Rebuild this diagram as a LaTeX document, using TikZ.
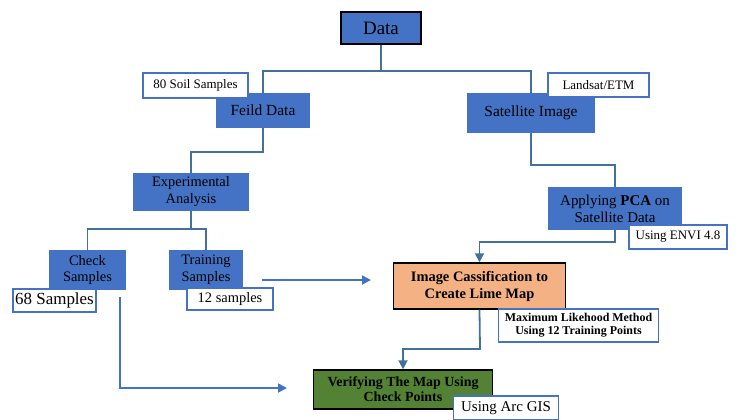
\documentclass[tikz,border=0pt]{standalone}
\usepackage{fontspec}
\setmainfont{Liberation Serif}
\usetikzlibrary{arrows.meta}
\definecolor{boxblue}{HTML}{4472C4}
\definecolor{lineblue}{HTML}{41719C}
\definecolor{limeorange}{HTML}{F4B183}
\definecolor{mapgreen}{HTML}{548235}
\newcommand{\fs}[2]{\fontsize{#1}{#2}\selectfont}

\begin{document}
\begin{tikzpicture}[x=1bp,y=-1bp]
        \tikzset{
          stage/.style = {fill=boxblue, text=black, align=center, inner sep=0pt},
          result/.style = {draw=black, line width=1.6pt, align=center, inner sep=0pt},
          note/.style = {draw=boxblue, fill=white, line width=1.5pt, inner sep=0pt, align=center},
          link/.style = {draw=lineblue, line width=1.8pt},
          flow/.style = {draw=boxblue, line width=1.8pt, -{Triangle[length=9pt,width=9pt]}}
        }
        \useasboundingbox (0,0) rectangle (737,419);
        % stages
        \node[stage, draw=black, line width=1.6pt, minimum width=80, minimum height=32, font=\fs{19}{20}] (data) at (381,28) {Data};
        \node[stage, minimum width=94, minimum height=35, font=\fs{15.5}{17}] (field) at (263,110.5) {Feild Data};
        \node[stage, minimum width=128, minimum height=40, font=\fs{15.5}{17}] (sat) at (531,113) {Satellite Image};
        \node[stage, minimum width=116, minimum height=38, font=\fs{14.5}{17}] (expt) at (191,192) {Experimental\\Analysis};
        \node[stage, minimum width=134, minimum height=43, font=\fs{15}{17}] (pca) at (615,208.5) {Applying \textbf{PCA} on\\Satellite Data};
        \node[stage, minimum width=77, minimum height=40, font=\fs{14.5}{17}] (check) at (87.5,270) {Check\\Samples};
        \node[stage, minimum width=74, minimum height=40, font=\fs{14.5}{17}] (train) at (206,270) {Training\\Samples};
        \node[result, fill=limeorange, minimum width=173, minimum height=46, font=\bfseries\fs{14.5}{17}] (imgcls) at (479.5,286) {Image Cassification to\\Create Lime Map};
        \node[result, fill=mapgreen, minimum width=180, minimum height=39, font=\bfseries\fs{14}{15}] (verify) at (403,389.5) {Verifying The Map Using\\Check Points};
        % labels
        \node[note, minimum width=105, minimum height=25, font=\fs{13}{14}] (soil) at (195.5,85.5) {80 Soil Samples};
        \node[note, minimum width=101, minimum height=24, font=\fs{13}{14}] (landsat) at (598.5,85) {Landsat/ETM};
        \node[note, minimum width=98, minimum height=24, font=\fs{13}{14}] (envi) at (678,237) {Using ENVI 4.8};
        \node[note, minimum width=161, minimum height=33, font=\bfseries\fs{12}{13}] (mlh) at (578.5,325.5) {Maximum Likehood Method\\Using 12 Training Points};
        \node[note, minimum width=83, minimum height=23, font=\fs{17}{18}] (n68) at (54.5,300.5) {68 Samples};
        \node[note, minimum width=86, minimum height=22, font=\fs{14.5}{16}] (n12) at (230,299) {12 samples};
        \node[note, minimum width=105, minimum height=24, font=\fs{15}{16}] (arc) at (506,408) {Using Arc GIS};
        % connectors
        \coordinate (j1) at (381,71);
        \coordinate (j2) at (263,152);
        \coordinate (j3) at (191,229);
        \coordinate (j4) at (531,165);
        \coordinate (j5) at (615,242);
        \coordinate (j6) at (480,349);
        \draw[link] (data.south) -- (j1) -| (field.north);
        \draw[link] (j1) -| (sat.north);
        \draw[link] (field.south) -- (j2) -| (expt.north);
        \draw[link] (expt.south) -- (j3) -| (check.north);
        \draw[link] (j3) -| (train.north);
        \draw[link] (sat.south) -- (j4) -| (pca.north);
        \draw[flow, draw=lineblue] (pca.south) -- (j5) -| (imgcls.north);
        \draw[flow, draw=lineblue] (imgcls.south) -- (j6) -| (verify.north);
        % free arrows
        \coordinate (t0) at (262,280);
        \coordinate (t1) at (371,280);
        \coordinate (c0) at (120,297);
        \coordinate (c1) at (287,388);
        \draw[flow] (t0) -- (t1);
        \draw[flow] (c0) |- (c1);
    \end{tikzpicture}
\end{document}
